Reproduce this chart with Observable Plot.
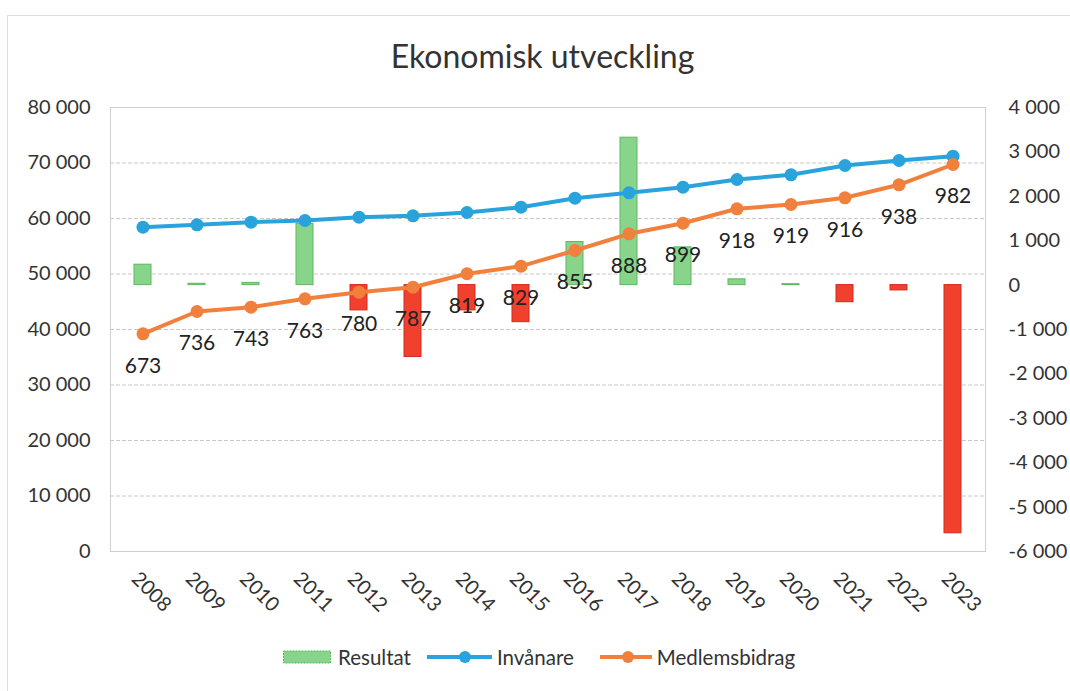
<!DOCTYPE html>
<html>
<head>
<meta charset="utf-8">
<script src="https://cdn.jsdelivr.net/npm/d3@7"></script>
<script src="https://cdn.jsdelivr.net/npm/@observablehq/plot@0.6"></script>
<style>
  html, body { margin: 0; padding: 0; background: #fff; }
  body { width: 1070px; height: 691px; position: relative; overflow: hidden; font-family: Lato, "Open Sans", sans-serif; color: #333; }
  #frame { position: absolute; left: 7px; top: 15px; width: 1100px; height: 700px; border: 1px solid #dcdcdc; box-sizing: border-box; }
  #title { position: absolute; left: 0; top: 36px; width: 1085px; text-align: center; font-size: 32px; color: #333; }
  #chart { position: absolute; left: 0; top: 85px; }
  #legend { position: absolute; left: 283px; top: 645px; display: flex; align-items: center; font-size: 20.5px; color: #333; }
  .item { display: flex; align-items: center; }
  .item svg { margin-right: 7px; }
</style>
</head>
<body>
<div id="frame"></div>
<div id="title">Ekonomisk utveckling</div>
<div id="chart"></div>
<div id="legend">
  <div class="item" style="margin-right:16px"><svg width="48" height="14"><rect x="0.5" y="1" width="47" height="12" fill="#88d48a" stroke="#5cb85f" stroke-dasharray="2,1"></rect></svg>Resultat</div>
  <div class="item" style="margin-right:26px"><svg width="65" height="14" style="margin-right:5px"><line x1="0" y1="7" x2="65" y2="7" stroke="#2aa3dd" stroke-width="4"></line><circle cx="38" cy="7" r="6" fill="#2aa3dd"></circle></svg>Invånare</div>
  <div class="item"><svg width="52" height="14" style="margin-right:5px"><line x1="0" y1="7" x2="52" y2="7" stroke="#f0803c" stroke-width="4"></line><circle cx="28" cy="7" r="6" fill="#f0803c"></circle></svg>Medlemsbidrag</div>
</div>
<script>
// ---- data ----
const years = ["2008","2009","2010","2011","2012","2013","2014","2015","2016","2017","2018","2019","2020","2021","2022","2023"];
const resultat = [460, 30, 50, 1380, -570, -1620, -570, -835, 970, 3320, 850, 130, 20, -385, -120, -5590];
const invanare = [58430, 58860, 59330, 59640, 60240, 60480, 61080, 62040, 63660, 64630, 65640, 67030, 67870, 69550, 70450, 71230];
const medlemsLine = [39220, 43240, 44020, 45530, 46720, 47620, 50040, 51410, 54230, 57240, 59150, 61750, 62520, 63730, 66070, 69730];
const medlemsLabels = [673, 736, 743, 763, 780, 787, 819, 829, 855, 888, 899, 918, 919, 916, 938, 982];
const leftTicks = [0, 10000, 20000, 30000, 40000, 50000, 60000, 70000, 80000];
const rightTicks = [-6000, -5000, -4000, -3000, -2000, -1000, 0, 1000, 2000, 3000, 4000];

// secondary axis mapping: right value r -> left value
const rightMin = -6000, scaleK = 8;
const toLeft = r => (r - rightMin) * scaleK;

const locale = d3.formatLocale({decimal: ",", thousands: "\u00a0", grouping: [3], currency: ["", ""], minus: "-"});
const fmt = locale.format(",d");

const rows = years.map((y, i) => ({
  year: y, res: resultat[i], inv: invanare[i], med: medlemsLine[i], lab: medlemsLabels[i]
}));

const chart = Plot.plot({
  width: 1070,
  height: 550,
  marginTop: 22,
  marginBottom: 84,
  marginLeft: 110,
  marginRight: 85,
  style: {fontFamily: "Lato, 'Open Sans', sans-serif", fontSize: "20px", color: "#333", background: "transparent"},
  x: {type: "band", domain: years, paddingInner: 0.69, paddingOuter: 0.345, label: null},
  y: {domain: [0, 80000], label: null},
  marks: [
    Plot.gridY(leftTicks, {stroke: "#c8c8c8", strokeOpacity: 1, strokeDasharray: "4,2"}),
    Plot.frame({stroke: "#cfcfcf"}),
    Plot.barY(rows, {
      x: "year",
      y1: () => toLeft(0),
      y2: d => toLeft(d.res),
      fill: d => d.res >= 0 ? "#88d48a" : "#f2402f",
      stroke: d => d.res >= 0 ? "#5cb85f" : "#d02a1c",
      strokeWidth: 1,
      strokeDasharray: d => d.res >= 0 ? "2,1" : null
    }),
    Plot.line(rows, {x: "year", y: "inv", stroke: "#2aa3dd", strokeWidth: 4}),
    Plot.dot(rows, {x: "year", y: "inv", r: 6.5, fill: "#2aa3dd"}),
    Plot.line(rows, {x: "year", y: "med", stroke: "#f0803c", strokeWidth: 4}),
    Plot.dot(rows, {x: "year", y: "med", r: 6.5, fill: "#f0803c"}),
    Plot.text(rows, {x: "year", y: "med", text: d => String(d.lab), dy: 32, fontSize: 21, fill: "#222"}),
    Plot.axisY(leftTicks, {anchor: "left", tickSize: 0, tickPadding: 20, tickFormat: fmt, label: null}),
    Plot.axisY(rightTicks.map(toLeft), {anchor: "right", tickSize: 0, tickPadding: 23, tickFormat: v => fmt(v / scaleK + rightMin), label: null}),
    Plot.axisX(years, {anchor: "bottom", tickSize: 0, tickPadding: 24, dx: -8, tickRotate: 45, label: null})
  ]
});
document.getElementById("chart").appendChild(chart);
</script>
</body>
</html>
